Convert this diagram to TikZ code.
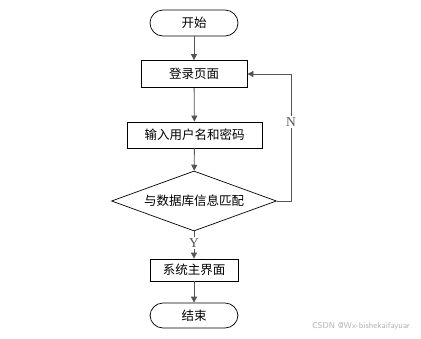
\documentclass[tikz,border=0pt]{standalone}
\usepackage{fontspec}
\setmainfont{Liberation Serif}
\newfontfamily\cjk{Noto Sans CJK SC}
\usepackage{xcolor}
\usetikzlibrary{arrows.meta,shapes.geometric}
\definecolor{linegray}{HTML}{555555}
\definecolor{markgray}{HTML}{B0B0B0}

\begin{document}
\begin{tikzpicture}[
          x=1pt,y=-1pt,
          every node/.style={font=\cjk\fontsize{12.5}{14}\selectfont},
          term/.style={draw,line width=0.7pt,rounded corners=13pt,minimum width=88pt,
                       minimum height=26pt,inner sep=0pt},
          proc/.style={draw,line width=0.8pt,minimum height=27pt,inner sep=0pt},
          decide/.style={draw,line width=0.7pt,diamond,aspect=2.75,inner sep=0pt,
                         minimum width=165pt,minimum height=60pt},
          arr/.style={-{Triangle[length=6pt,width=6pt]},line width=0.8pt,linegray},
          lbl/.style={fill=white,inner sep=1.5pt,font=\fontsize{13.5}{15}\selectfont},
      ]
        \useasboundingbox (0,0) rectangle (421,338);

        \node[term] (start) at (194,23) {开始};
        \node[proc,minimum width=106pt] (login) at (194,74) {登录页面};
        \node[proc,minimum width=135pt,minimum height=26pt] (input) at (194.5,135) {输入用户名和密码};
        \node[decide] (check) at (194,201) {与数据库信息匹配};
        \node[proc,minimum width=88pt,minimum height=22pt] (main) at (194,270) {系统主界面};
        \node[term,minimum height=25pt] (stop) at (194,315.5) {结束};
        \coordinate (loop) at (291,74);

        \draw[arr] (start) -- (login);
        \draw[arr] (login) -- (input);
        \draw[arr] (input) -- (check);
        \draw[arr] (check) -- (main) node[lbl,pos=0.42] {Y};
        \draw[arr] (main) -- (stop);
        \draw[arr] (check.east) -- (check.east -| loop) -- (loop)
          node[lbl,pos=0.62] {N} -- (login);

        \node[font=\sffamily\fontsize{8.5}{10}\selectfont,text=markgray] (mark) at (361,326)
          {CSDN @Wx-bishekaifayuar};
      \end{tikzpicture}
\end{document}
